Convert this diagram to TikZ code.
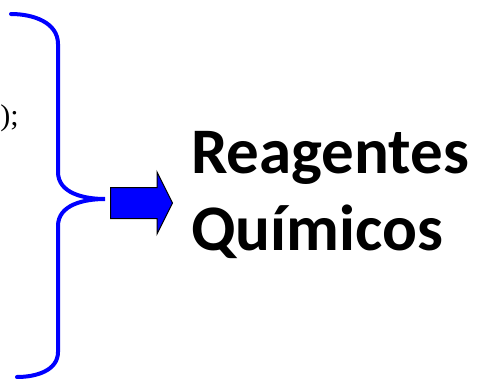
\documentclass[tikz,border=0pt]{standalone}
\usepackage{fontspec}
\setmainfont{Liberation Serif}
\newfontfamily\reagfont{Carlito}
\definecolor{bracecol}{RGB}{0,0,255}
\tikzset{
	bracestyle/.style={draw=bracecol, line width=4pt, line cap=round},
	bigtext/.style={inner sep=0pt, outer sep=0pt, anchor=base west, font=\reagfont\bfseries\fontsize{65}{77}\selectfont},
}

\begin{document}
\begin{tikzpicture}[x=1pt,y=-1pt]
	\useasboundingbox (0,0) rectangle (485,378);
	\node[inner sep=0pt, anchor=base east, font=\fontsize{30}{34}\selectfont] (cut) at (19,125) {);};
	\draw[bracestyle] (11,14) to [out=0,in=90](58,44) -- (58,172) to [out=-90,in=180](105,199)
	to [out=180,in=90](58,226) -- (58,352) to [out=-90,in=0](17,377);
	\draw[fill=bracecol, draw=black, line width=1pt, line join=miter] (110.5,187.5) -- (157,187.5) -- (157,172)
	-- (172.5,203) -- (157,234) -- (157,218.5) -- (110.5,218.5) -- cycle;
	\node[bigtext] (reag) at (191,173) {Reagentes};
	\node[bigtext] (quim) at (191,250) {Químicos};
\end{tikzpicture}
\end{document}
